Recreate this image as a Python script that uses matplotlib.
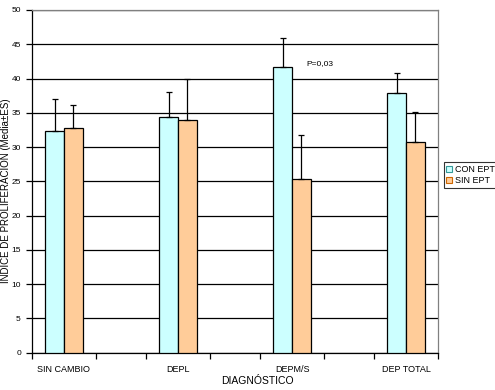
import matplotlib
matplotlib.use("Agg")
import matplotlib.pyplot as plt
import numpy as np
from matplotlib.lines import Line2D

categories = ["SIN CAMBIO", "DEPL", "DEPM/S", "DEP TOTAL"]
con_ept = [32.3, 34.4, 41.7, 37.9]
con_err = [4.7, 3.6, 4.2, 2.9]
sin_ept = [32.8, 33.9, 25.4, 30.7]
sin_err = [3.3, 6.1, 6.4, 4.4]
series_names = ["CON EPT", "SIN EPT"]
yticks = [0, 5, 10, 15, 20, 25, 30, 35, 40, 45, 50]

plt.rcParams['font.family'] = ['Liberation Sans', 'DejaVu Sans']

fig = plt.figure(figsize=(4.95, 3.9), dpi=100)
ax = fig.add_axes([32 / 495, 1 - 352.7 / 390, (438 - 32) / 495, (352.7 - 10) / 390])

x = np.arange(len(categories))
w = 0.165
c1, c2 = "#CCFFFF", "#FFCC99"
ax.bar(x - w / 2, con_ept, w, color=c1, edgecolor="black", linewidth=0.9, zorder=3)
ax.bar(x + w / 2, sin_ept, w, color=c2, edgecolor="black", linewidth=0.9, zorder=3)
ax.errorbar(x - w / 2, con_ept, yerr=[np.zeros(4), con_err], fmt="none", ecolor="black",
            elinewidth=0.9, capsize=2, capthick=0.9, zorder=4)
ax.errorbar(x + w / 2, sin_ept, yerr=[np.zeros(4), sin_err], fmt="none", ecolor="black",
            elinewidth=0.9, capsize=2, capthick=0.9, zorder=4)

ax.set_ylim(0, 50)
ax.set_xlim(-0.28, 3.28)
ax.set_yticks(yticks)
ax.set_yticklabels([str(v) for v in yticks], fontsize=6)
ax.yaxis.grid(True, color="black", linewidth=0.9, zorder=0)
ax.set_axisbelow(True)

ax.set_xticks(x)
ax.set_xticklabels(categories, fontsize=6.5)
ax.tick_params(axis="x", length=0, pad=9)
minor = []
for xi in x:
    minor += [xi - 0.28, xi + 0.28]
ax.set_xticks(minor, minor=True)
ax.tick_params(axis="x", which="minor", length=4, width=0.9, direction="out")
ax.tick_params(axis="y", length=4, width=0.9, direction="out", pad=4)

for s in ["left", "bottom"]:
    ax.spines[s].set_color("black")
    ax.spines[s].set_linewidth(0.9)
for s in ["top", "right"]:
    ax.spines[s].set_color("#808080")
    ax.spines[s].set_linewidth(0.9)

ax.text(2.13, 42.25, "P=0,03", fontsize=6, ha="left", va="center")

fig.text(5.5 / 495, 1 - 191 / 390, "INDICE DE PROLIFERACIÓN (Media±ES)", rotation=90,
         fontsize=7, ha="center", va="center")
fig.text(257 / 495, 1 - 381 / 390, "DIAGNÓSTICO", fontsize=7.5, ha="center", va="center")

handles = [Line2D([], [], marker="s", linestyle="none", markersize=4, markerfacecolor=c1,
                  markeredgecolor="#339999", markeredgewidth=0.8),
           Line2D([], [], marker="s", linestyle="none", markersize=4, markerfacecolor=c2,
                  markeredgecolor="#CC6600", markeredgewidth=0.8)]
leg = fig.legend(handles, series_names, loc="upper left",
                 bbox_to_anchor=(444 / 495, 1 - 162 / 390), fontsize=6.5,
                 frameon=True, fancybox=False, edgecolor="black", borderpad=0.3,
                 handlelength=0.6, handletextpad=0.3, labelspacing=0.3, borderaxespad=0)
leg.get_frame().set_linewidth(0.8)

fig.savefig("out.png", dpi=100)
